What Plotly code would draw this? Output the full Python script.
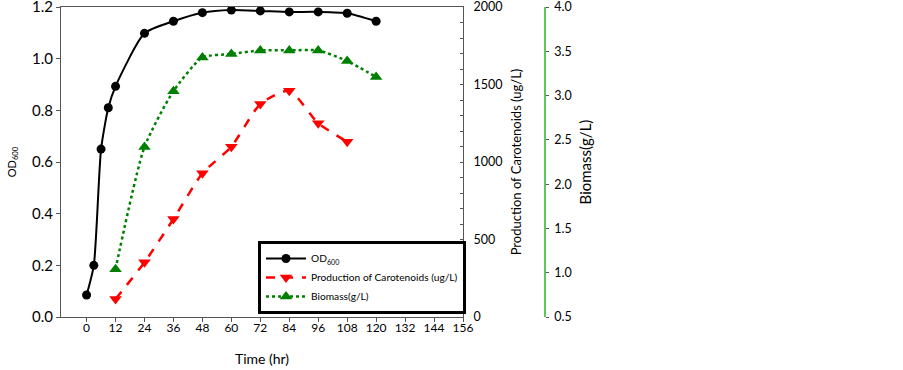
import plotly.graph_objects as go

# ---- data ----
od_time = [0, 3, 6, 9, 12, 24, 36, 48, 60, 72, 84, 96, 108, 120]
od_values = [0.085, 0.20, 0.65, 0.81, 0.893, 1.098, 1.145, 1.178, 1.188, 1.185, 1.181, 1.181, 1.176, 1.145]

car_time = [12, 24, 36, 48, 60, 72, 84, 96, 108]
car_values = [116, 353, 632, 927, 1099, 1374, 1460, 1250, 1131]

bio_time = [12, 24, 36, 48, 60, 72, 84, 96, 108, 120]
bio_values = [1.04, 2.42, 3.05, 3.43, 3.47, 3.51, 3.51, 3.51, 3.39, 3.21]

x_ticks = [0, 12, 24, 36, 48, 60, 72, 84, 96, 108, 120, 132, 144, 156]

FONT = "Lato"
AXC = "#555555"

W, H = 903, 370
ML, MR, MT, MB = 61, 300, 7, 53
PW = W - ML - MR
x_end = (463 - ML) / PW
bio_pos = (545 - ML) / PW

fig = go.Figure()
fig.add_trace(go.Scatter(
    x=od_time, y=od_values, name="OD<sub>600</sub>", mode="lines+markers",
    line=dict(color="black", width=2, shape="spline", smoothing=0.6),
    marker=dict(symbol="circle", size=9, color="black"), yaxis="y"))
fig.add_trace(go.Scatter(
    x=car_time, y=car_values, name="Production of Carotenoids (ug/L)", mode="lines+markers",
    line=dict(color="#ff0000", width=2.5, dash="dash", shape="spline", smoothing=0.6),
    marker=dict(symbol="triangle-down", size=11, color="#ff0000"), yaxis="y2"))
fig.add_trace(go.Scatter(
    x=bio_time, y=bio_values, name="Biomass(g/L)", mode="lines+markers",
    line=dict(color="#008000", width=2.5, dash="dot", shape="spline", smoothing=0.6),
    marker=dict(symbol="triangle-up", size=11, color="#008000"), yaxis="y3"))

fig.update_layout(
    width=W, height=H,
    margin=dict(l=ML, r=MR, t=MT, b=MB, autoexpand=False),
    paper_bgcolor="white", plot_bgcolor="white",
    font=dict(family=FONT, color="black"),
    showlegend=True,
    legend=dict(
        x=(258 - ML) / PW, y=(317 - 241) / 310, xanchor="left", yanchor="top",
        bordercolor="black", borderwidth=3, bgcolor="white",
        font=dict(size=10.2, family=FONT), tracegroupgap=0, itemwidth=40,
    ),
    xaxis=dict(
        domain=[0, x_end], range=[-10.6, 156], automargin=False,
        tickmode="array", tickvals=x_ticks, ticktext=[str(v) for v in x_ticks],
        ticks="outside", ticklen=4, tickcolor=AXC, ticklabelstandoff=-4,
        showline=True, linecolor=AXC, linewidth=1, mirror=True,
        showgrid=False, zeroline=False,
        tickfont=dict(size=12),
        title=dict(text="Time (hr)", font=dict(size=14), standoff=19),
    ),
    yaxis=dict(
        range=[0, 1.2], dtick=0.2, tickformat=".1f", automargin=False,
        ticklabeloverflow="allow",
        ticks="outside", ticklen=4, tickcolor=AXC,
        showline=True, linecolor=AXC, linewidth=1,
        showgrid=False, zeroline=False,
        tickfont=dict(size=15),
        title=dict(text="OD<sub>600</sub>", font=dict(size=11), standoff=13),
    ),
    yaxis2=dict(
        range=[0, 2000], dtick=500, overlaying="y", side="right", anchor="x",
        automargin=False, ticklabeloverflow="allow",
        ticks="inside", ticklen=3, tickcolor=AXC, ticklabelstandoff=7,
        minor=dict(dtick=100, ticks="inside", ticklen=3, tickcolor=AXC),
        showline=True, linecolor=AXC, linewidth=1,
        showgrid=False, zeroline=False,
        tickfont=dict(size=12.5),
        title=dict(text="Production of Carotenoids (ug/L)", font=dict(size=13), standoff=10),
    ),
    yaxis3=dict(
        range=[0.5, 4.0], dtick=0.5, tickformat=".1f", overlaying="y", side="right",
        anchor="free", position=bio_pos, automargin=False, ticklabeloverflow="allow",
        ticks="outside", ticklen=3, tickcolor=AXC, ticklabelstandoff=3,
        showline=True, linecolor="#5cc85c", linewidth=1.5,
        showgrid=False, zeroline=False,
        tickfont=dict(size=12.5),
        title=dict(text="Biomass(g/L)", font=dict(size=15), standoff=9),
    ),
)

fig.write_html("out.html", config={"displayModeBar": False},
               post_script="document.body.style.margin='0px';")
